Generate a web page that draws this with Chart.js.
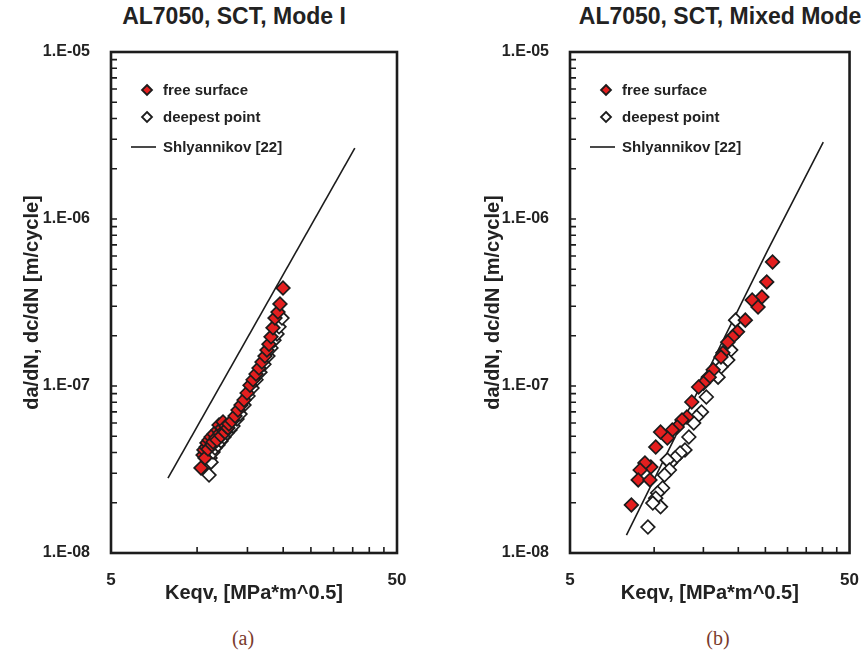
<!DOCTYPE html>
<html>
<head>
<meta charset="utf-8">
<script src="https://cdn.jsdelivr.net/npm/chart.js@4.4.0/dist/chart.umd.min.js"></script>
<style>
  body { margin: 0; background: #fff; width: 868px; height: 657px; position: relative; overflow: hidden; font-family: "Liberation Sans", Arial, sans-serif; }
  canvas { position: absolute; top: 0; }
  #chartA { left: 0; }
  #chartB { left: 461px; }
  .title { position: absolute; top: 3px; font-weight: bold; font-size: 23px; color: #222; white-space: nowrap; transform: translateX(-50%); }
  .cap { position: absolute; top: 627px; font-family: "Liberation Serif", serif; font-size: 20px; color: #7a3a2c; transform: translateX(-50%); }
</style>
</head>
<body>
<div class="title" style="left:234px">AL7050, SCT, Mode I</div>
<div class="title" style="left:720px">AL7050, SCT, Mixed Mode</div>
<canvas id="chartA" width="440" height="620"></canvas>
<canvas id="chartB" width="407" height="620"></canvas>
<div class="cap" style="left:243px">(a)</div>
<div class="cap" style="left:718px">(b)</div>
<script>
// axis ticks
const xTicks = [5, 10, 15, 20, 25, 30, 35, 40, 45, 50];
const xLabeled = [5, 50];
const yMajor = [1e-8, 1e-7, 1e-6, 1e-5];
const yMajorText = ["1.E-08", "1.E-07", "1.E-06", "1.E-05"];
const yTicks = [1e-8, 1e-7, 1e-6].flatMap(d => [1, 2, 3, 4, 5, 6, 7, 8, 9].map(m => m * d)).concat([1e-5]);

const seriesNames = ["free surface", "deepest point", "Shlyannikov [22]"];

// (a) Mode I
const kFreeA = [10.32, 10.49, 10.57, 10.66, 10.75, 10.83, 10.92, 11.01, 11.19, 11.28, 11.37, 11.46, 11.64, 11.74, 11.83, 11.93, 12.03, 12.13, 12.22, 12.32, 12.42, 12.52, 12.62, 12.82, 12.92, 13.24, 13.57, 13.90, 14.24, 14.59, 14.95, 15.31, 15.69, 16.07, 16.46, 16.86, 17.27, 17.55, 17.84, 18.13, 18.42, 18.72, 19.18, 19.49, 19.97];
const rateFreeA = [3.23e-8, 3.86e-8, 4.14e-8, 3.71e-8, 4.31e-8, 4.56e-8, 4.19e-8, 4.75e-8, 4.95e-8, 4.44e-8, 4.62e-8, 5.16e-8, 4.88e-8, 4.75e-8, 5.45e-8, 5.84e-8, 5.23e-8, 5.03e-8, 5.61e-8, 6.09e-8, 5.38e-8, 5.30e-8, 5.76e-8, 5.61e-8, 5.92e-8, 6.17e-8, 6.61e-8, 7.18e-8, 7.69e-8, 8.24e-8, 9.08e-8, 1.01e-7, 1.09e-7, 1.18e-7, 1.28e-7, 1.39e-7, 1.51e-7, 1.64e-7, 1.78e-7, 1.97e-7, 2.23e-7, 2.55e-7, 2.77e-7, 3.10e-7, 3.86e-7];
const kDeepA = [11.01, 11.10, 11.19, 11.37, 11.55, 11.83, 12.13, 12.42, 12.72, 13.03, 13.35, 13.79, 14.13, 14.59, 15.07, 15.56, 16.07, 16.59, 17.13, 17.69, 18.13, 18.57, 19.03, 19.34, 19.81];
const rateDeepA = [2.93e-8, 3.71e-8, 3.50e-8, 4.02e-8, 4.25e-8, 4.44e-8, 4.69e-8, 4.95e-8, 5.23e-8, 5.45e-8, 5.76e-8, 6.34e-8, 6.79e-8, 7.69e-8, 8.71e-8, 9.73e-8, 1.09e-7, 1.21e-7, 1.35e-7, 1.51e-7, 1.69e-7, 1.88e-7, 2.05e-7, 2.26e-7, 2.55e-7];
const kLineA = [7.91, 35.6];
const rateLineA = [2.81e-8, 2.66e-6];

// (b) Mixed Mode
const kFreeB = [26.52, 25.28, 24.29, 22.42, 23.53, 21.19, 19.87, 19.09, 18.34, 17.62, 17.34, 16.26, 15.74, 15.01, 14.42, 13.63, 13.10, 12.58, 12.09, 11.61, 11.15, 10.54, 10.13, 9.73, 9.27, 8.91, 8.77, 9.66, 8.29];
const rateFreeB = [5.53e-7, 4.20e-7, 3.41e-7, 3.27e-7, 2.97e-7, 2.48e-7, 2.11e-7, 1.97e-7, 1.83e-7, 1.58e-7, 1.49e-7, 1.25e-7, 1.13e-7, 1.04e-7, 9.86e-8, 8.02e-8, 6.52e-8, 6.26e-8, 5.68e-8, 5.45e-8, 4.88e-8, 5.30e-8, 4.31e-8, 3.27e-8, 3.46e-8, 3.14e-8, 2.74e-8, 2.74e-8, 1.94e-8];
const kDeepB = [19.56, 18.79, 18.34, 17.34, 16.93, 15.62, 15.37, 14.77, 14.19, 13.85, 13.31, 12.89, 12.38, 11.89, 11.43, 11.15, 11.34, 10.89, 10.72, 10.29, 10.13, 10.54, 9.89, 9.50];
const rateDeepB = [2.48e-7, 1.64e-7, 1.43e-7, 1.30e-7, 1.13e-7, 1.13e-7, 8.59e-8, 6.99e-8, 6.52e-8, 6.00e-8, 4.95e-8, 4.14e-8, 3.97e-8, 3.71e-8, 3.46e-8, 3.61e-8, 3.14e-8, 2.93e-8, 2.45e-8, 2.29e-8, 2.13e-8, 1.89e-8, 1.99e-8, 1.43e-8];
const kLineB = [7.96, 25.49, 40.27];
const rateLineB = [1.28e-8, 6.52e-7, 2.89e-6];

const RED = "#e41f1f";
const INK = "#1c1c1c";
const TXT = "#222";

function pts(xs, ys) {
  return xs.map((x, i) => ({ x: x, y: ys[i] }));
}

// frame + inward tick marks
const framePlugin = {
  id: "frame",
  afterDatasetsDraw(chart) {
    const { ctx, chartArea: a, scales } = chart;
    ctx.save();
    ctx.strokeStyle = INK;
    ctx.lineWidth = 1.6;
    ctx.beginPath();
    scales.x.ticks.forEach(t => {
      const px = scales.x.getPixelForValue(t.value);
      if (px <= a.left + 1 || px >= a.right - 1) return;
      ctx.moveTo(px, a.bottom);
      ctx.lineTo(px, a.bottom - 6);
    });
    scales.y.ticks.forEach(t => {
      const py = scales.y.getPixelForValue(t.value);
      if (py <= a.top + 1 || py >= a.bottom - 1) return;
      ctx.moveTo(a.left, py);
      ctx.lineTo(a.left + 6, py);
    });
    ctx.stroke();
    ctx.lineWidth = 2.6;
    ctx.strokeRect(a.left, a.top, a.right - a.left, a.bottom - a.top);
    ctx.restore();
  }
};

// legend drawn inside the plot area
const innerLegend = {
  id: "innerLegend",
  afterDraw(chart) {
    const { ctx, chartArea: a } = chart;
    const rows = [38, 65, 95];
    ctx.save();
    ctx.font = "bold 15px 'Liberation Sans', Arial, sans-serif";
    ctx.textBaseline = "middle";
    chart.data.datasets.forEach((ds, i) => {
      const y = a.top + rows[i];
      ctx.strokeStyle = INK;
      if (ds.showLine) {
        ctx.lineWidth = 1.6;
        ctx.beginPath();
        ctx.moveTo(a.left + 20, y);
        ctx.lineTo(a.left + 45, y);
        ctx.stroke();
      } else {
        const cx = a.left + 36, r = 5;
        ctx.lineWidth = 1.8;
        ctx.fillStyle = ds.backgroundColor;
        ctx.beginPath();
        ctx.moveTo(cx, y - r);
        ctx.lineTo(cx + r, y);
        ctx.lineTo(cx, y + r);
        ctx.lineTo(cx - r, y);
        ctx.closePath();
        ctx.fill();
        ctx.stroke();
      }
      ctx.fillStyle = TXT;
      ctx.fillText(ds.label, a.left + 52, y + 1);
    });
    ctx.restore();
  }
};

function makeChart(id, free, deep, line, yAxisWidth, padRight) {
  new Chart(document.getElementById(id), {
    type: "scatter",
    data: {
      datasets: [
        { label: seriesNames[0], data: free, pointStyle: "rectRot", pointRadius: 6.8, backgroundColor: RED, borderColor: INK, borderWidth: 1.7, order: 1 },
        { label: seriesNames[1], data: deep, pointStyle: "rectRot", pointRadius: 6.8, backgroundColor: "#fff", borderColor: INK, borderWidth: 1.7, order: 2 },
        { label: seriesNames[2], data: line, showLine: true, pointRadius: 0, borderColor: INK, borderWidth: 1.6, backgroundColor: INK, order: 3 }
      ]
    },
    options: {
      responsive: false,
      animation: false,
      devicePixelRatio: 1,
      layout: { padding: { top: 52, right: padRight, left: 0, bottom: 0 } },
      plugins: { legend: { display: false }, tooltip: { enabled: false } },
      scales: {
        x: {
          type: "logarithmic",
          min: 5,
          max: 50,
          afterBuildTicks: s => { s.ticks = xTicks.map(v => ({ value: v })); },
          afterFit: s => { s.height = 67; },
          grid: { display: false },
          border: { display: false },
          ticks: {
            autoSkip: false,
            maxRotation: 0,
            padding: 9,
            color: TXT,
            font: { family: "'Liberation Sans', Arial", size: 17, weight: "bold" },
            callback: v => (xLabeled.includes(v) ? String(v) : "")
          },
          title: {
            display: true,
            text: "Keqv, [MPa*m^0.5]",
            color: TXT,
            font: { family: "'Liberation Sans', Arial", size: 20, weight: "bold" },
            padding: { top: 0, bottom: 15 }
          }
        },
        y: {
          type: "logarithmic",
          min: 1e-8,
          max: 1e-5,
          afterBuildTicks: s => { s.ticks = yTicks.map(v => ({ value: v })); },
          afterFit: s => { s.width = yAxisWidth; },
          grid: { display: false },
          border: { display: false },
          ticks: {
            autoSkip: false,
            padding: 13,
            color: TXT,
            font: { family: "'Liberation Sans', Arial", size: 16, weight: "bold" },
            callback: v => {
              const i = yMajor.findIndex(m => Math.abs(v / m - 1) < 1e-6);
              return i >= 0 ? yMajorText[i] : "";
            }
          },
          title: {
            display: true,
            text: "da/dN, dc/dN [m/cycle]",
            color: TXT,
            font: { family: "'Liberation Sans', Arial", size: 20, weight: "bold" },
            padding: { top: 20, bottom: 0 }
          }
        }
      }
    },
    plugins: [framePlugin, innerLegend]
  });
}

makeChart("chartA", pts(kFreeA, rateFreeA), pts(kDeepA, rateDeepA), pts(kLineA, rateLineA), 111, 43);
makeChart("chartB", pts(kFreeB, rateFreeB), pts(kDeepB, rateDeepB), pts(kLineB, rateLineB), 109, 11);
</script>
</body>
</html>
